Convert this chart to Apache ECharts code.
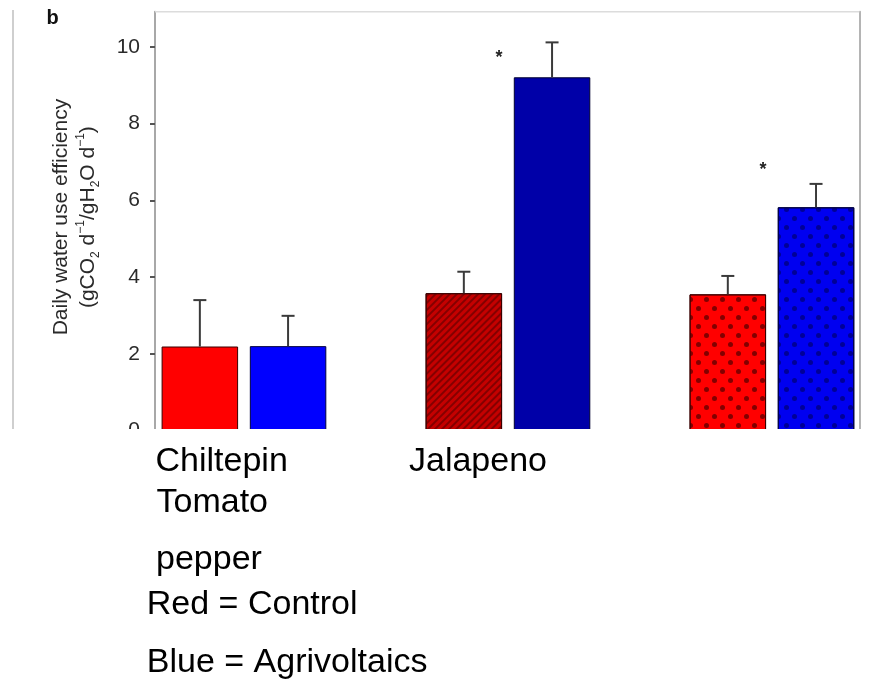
<!DOCTYPE html>
<html>
<head>
<meta charset="utf-8">
<style>
  html, body { margin: 0; padding: 0; background: #ffffff; }
  #chart { width: 890px; height: 681px; }
</style>
<script src="https://cdn.jsdelivr.net/npm/echarts@6/dist/echarts.min.js"></script>
</head>
<body>
<div id="chart"></div>
<script>
// ---- data ----
const groupPositions = [1, 2, 3];               // Chiltepin pepper, Jalapeno, Tomato
const controlValues = [2.19, 3.58, 3.55];
const controlErrors = [1.21, 0.56, 0.48];
const agriValues = [2.20, 9.21, 5.82];
const agriErrors = [0.79, 0.91, 0.61];
const yTicks = [0, 2, 4, 6, 8, 10];
const significance = [[2, 9.85], [3, 6.92]];
const captionTop = ['Chiltepin', 'Jalapeno'];
const captionMid = ['Tomato'];
const captionLow = ['pepper'];
const legendLines = ['Red = Control', 'Blue = Agrivoltaics'];
const panelLetter = 'b';

// ---- layout constants ----
const CAT_GAP = 0.376, BAR_GAP = 0.153;
const gridLeft = 155, gridWidth = 704.3, gridTop = 11.7, gridHeight = 418.8;
const xMin = 0.663, xMax = 3.331, yMax = 10.92;

const chart = echarts.init(document.getElementById('chart'), null, { renderer: 'canvas' });

const dotDecal = (c) => ({ symbol: 'circle', symbolSize: 1, color: c, dashArrayX: [[4.5, 10.5], [0, 7.5, 4.5, 3]], dashArrayY: [4.5, 3.3], rotation: 0 });
const controlStyles = [
  { color: '#ff0000', borderColor: '#3a0000', borderWidth: 1 },
  { color: '#c40000', borderColor: '#3a0000', borderWidth: 1,
    decal: { symbol: 'rect', symbolSize: 1, color: 'rgba(80,0,0,0.55)', dashArrayX: [1, 0], dashArrayY: [1.4, 2.2], rotation: -Math.PI / 4 } },
  { color: '#ff0000', borderColor: '#3a0000', borderWidth: 1, decal: dotDecal('rgba(90,0,0,0.75)') }
];
const agriStyles = [
  { color: '#0000ff', borderColor: '#000040', borderWidth: 1 },
  { color: '#0000a8', borderColor: '#000030', borderWidth: 1 },
  { color: '#0000f0', borderColor: '#000040', borderWidth: 1, decal: dotDecal('rgba(0,0,120,0.75)') }
];

function barGeom(api, xv, side) {
  const bw = api.size([1, 0])[0];
  const barW = bw * (1 - CAT_GAP) / (2 + BAR_GAP);
  return api.coord([xv, 0])[0] + side * barW * (1 + BAR_GAP) / 2;
}

function errorRenderer(side) {
  return function (params, api) {
    const xv = api.value(0), v = api.value(1), e = api.value(2);
    const x = barGeom(api, xv, side);
    const y0 = api.coord([xv, v])[1];
    const y1 = api.coord([xv, v + e])[1];
    const st = { stroke: '#3a3a3a', lineWidth: 2 };
    return {
      type: 'group',
      children: [
        { type: 'line', shape: { x1: x, y1: y0, x2: x, y2: y1 }, style: st },
        { type: 'line', shape: { x1: x - 6.5, y1: y1, x2: x + 6.5, y2: y1 }, style: st }
      ]
    };
  };
}

const textFont = '"Liberation Sans", Arial, sans-serif';
const bigText = (txt, x, y) => ({
  type: 'text', x: x, y: y, z: 200,
  style: { text: txt, font: '34px ' + textFont, fill: '#000', textAlign: 'left', textVerticalAlign: 'middle' }
});

const option = {
  backgroundColor: '#ffffff',
  animation: false,
  grid: { left: gridLeft, top: gridTop, width: gridWidth, height: gridHeight, containLabel: false },
  xAxis: {
    type: 'value', min: xMin, max: xMax,
    axisLine: { show: false },
    axisTick: { show: false },
    axisLabel: { show: false },
    splitLine: { show: false }
  },
  yAxis: [
    {
      type: 'value', min: 0, max: yMax, interval: 2, position: 'left',
      axisLine: { show: true, lineStyle: { color: '#a8a8a8', width: 2 } },
      axisTick: { show: true, length: 5, lineStyle: { color: '#555', width: 2 }, customValues: yTicks },
      axisLabel: { fontSize: 21, color: '#2a2a2a', margin: 15, fontFamily: textFont, customValues: yTicks },
      splitLine: { show: false },
      name: '{a|Daily water use efficiency}\n{a|(gCO}{sub|2}{a| d}{sup|−1}{a|/gH}{sub|2}{a|O d}{sup|−1}{a|)}',
      nameLocation: 'middle',
      nameRotate: 90,
      nameGap: 53,
      nameTextStyle: {
        color: '#2a2a2a', fontFamily: textFont, lineHeight: 27,
        padding: [0, 0, 0, 8],
        rich: {
          a: { fontSize: 21, color: '#2a2a2a', fontFamily: textFont, lineHeight: 27 },
          sup: { fontSize: 12, color: '#2a2a2a', fontFamily: textFont, lineHeight: 18, verticalAlign: 'top' },
          sub: { fontSize: 12, color: '#2a2a2a', fontFamily: textFont, lineHeight: 18, verticalAlign: 'bottom' }
        }
      }
    },
    {
      type: 'value', min: 0, max: yMax, interval: 2, position: 'right',
      axisLine: { show: true, lineStyle: { color: '#b4b4b4', width: 2 } },
      axisTick: { show: false }, axisLabel: { show: false }, splitLine: { show: false }
    }
  ],
  series: [
    {
      name: 'Control', type: 'bar', barGap: (BAR_GAP * 100) + '%', barCategoryGap: (CAT_GAP * 100) + '%',
      data: controlValues.map((v, i) => ({ value: [groupPositions[i], v], itemStyle: controlStyles[i] })),
      z: 2
    },
    {
      name: 'Agrivoltaics', type: 'bar', barGap: (BAR_GAP * 100) + '%', barCategoryGap: (CAT_GAP * 100) + '%',
      data: agriValues.map((v, i) => ({ value: [groupPositions[i], v], itemStyle: agriStyles[i] })),
      z: 2
    },
    {
      type: 'custom', renderItem: errorRenderer(-1), z: 3,
      encode: { x: 0, y: 1 },
      data: controlValues.map((v, i) => [groupPositions[i], v, controlErrors[i]])
    },
    {
      type: 'custom', renderItem: errorRenderer(1), z: 3,
      encode: { x: 0, y: 1 },
      data: agriValues.map((v, i) => [groupPositions[i], v, agriErrors[i]])
    },
    {
      type: 'custom', z: 3,
      encode: { x: 0, y: 1 },
      data: significance,
      renderItem: function (params, api) {
        const p = api.coord([api.value(0), api.value(1)]);
        return {
          type: 'text', x: p[0] - 9, y: p[1] + 5,
          style: { text: '*', font: 'bold 18px ' + textFont, fill: '#222', textAlign: 'center', textVerticalAlign: 'middle' }
        };
      }
    }
  ],
  graphic: [
    { type: 'line', z: 50, shape: { x1: 155, y1: 11.7, x2: 859.3, y2: 11.7 }, style: { stroke: '#dcdcdc', lineWidth: 1.5 } },
    { type: 'line', z: 50, shape: { x1: 13, y1: 10, x2: 13, y2: 429 }, style: { stroke: '#cfcfcf', lineWidth: 2 } },
    { type: 'text', z: 50, x: 46.5, y: 18.8, style: { text: panelLetter, font: 'bold 20px ' + textFont, fill: '#111', textAlign: 'left', textVerticalAlign: 'middle' } },
    { type: 'rect', z: 150, shape: { x: 0, y: 429, width: 890, height: 252 }, style: { fill: '#ffffff' } },
    bigText(captionTop[0], 155.5, 461.2),
    bigText(captionTop[1], 409, 461.2),
    bigText(captionMid[0], 156.5, 502.8),
    bigText(captionLow[0], 156, 559.5),
    bigText(legendLines[0], 146.8, 604.5),
    bigText(legendLines[1], 146.8, 662.2)
  ]
};

chart.setOption(option);
</script>
</body>
</html>
